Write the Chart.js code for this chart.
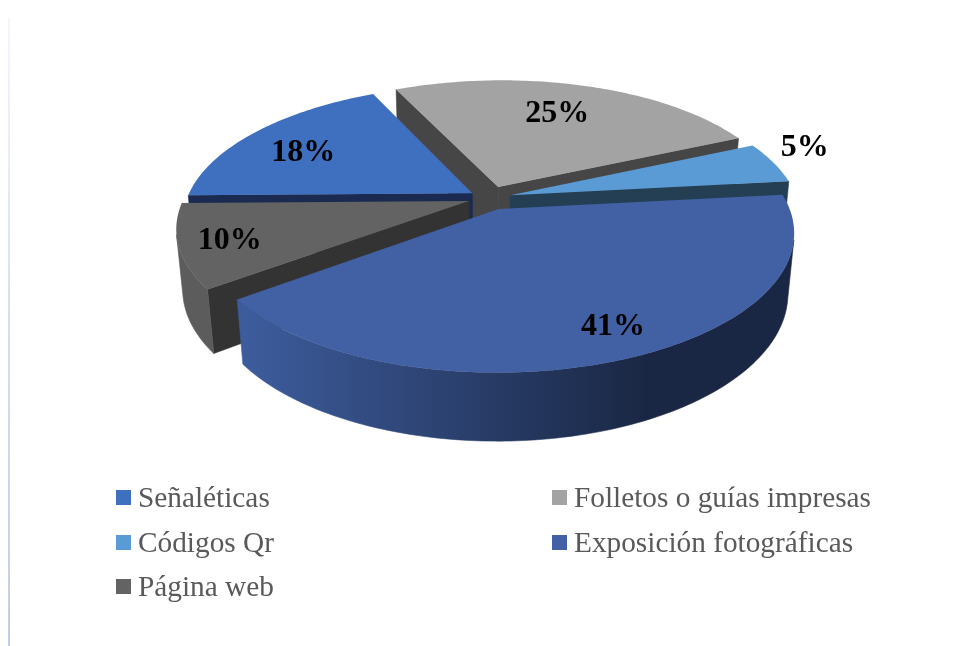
<!DOCTYPE html>
<html lang="es">
<head>
<meta charset="utf-8">
<title>Pie 3D</title>
<script src="https://cdn.jsdelivr.net/npm/chart.js@4/dist/chart.umd.min.js"></script>
<style>
html,body{margin:0;padding:0;background:#fff}
canvas{display:block}
</style>
</head>
<body>
<canvas id="c" width="958" height="646"></canvas>
<script>
const categories = ['Señaléticas','Folletos o guías impresas','Códigos Qr','Exposición fotográficas','Página web'];
const values = [18,25,5,41,10];
const topColors = ['#3F6FBF','#A3A3A3','#5B9BD5','#4260A4','#636363'];
const wallColors = ['#1A2A50','#464646','#243F54','#1F3060','#333333'];
const rimStart = ['#1A2A50','#464646','#243F54','#3D5C9C','#5C5C5C'];
const rimEnd = ['#1A2A50','#464646','#243F54','#1A2744','#484848'];
const explode = [20,26,22,26,21];
const paintOrder = [1,0,2,4,3];
const labelRadius = [0.812,0.805,1.26,0.91,0.905];
const labelTurn = [-2,-1.2,-5,-3,0.1];
const legendOrder = [[0,0],[1,0],[0,1],[1,1],[0,2]];

const view = {radius:286, squash:0.453, persp:0.18, depth:60, depthPersp:0.02, tilt:-2};

function project(el,X,Y,z){
  const w = 1 + view.persp*Y + view.depthPersp*z;
  return {
    x: el.x + view.radius*X/w,
    y: el.y - view.radius*view.squash*Y/w + view.depth*z/w + view.tilt*X
  };
}
function visible(a,b,d){
  return (b.x-a.x)*(d.y-a.y)-(b.y-a.y)*(d.x-a.x) < 0;
}
function poly(ctx,pts,fill){
  ctx.fillStyle = fill; ctx.strokeStyle = fill; ctx.lineWidth = 0.6;
  ctx.beginPath(); pts.forEach((p,n)=> n ? ctx.lineTo(p.x,p.y) : ctx.moveTo(p.x,p.y));
  ctx.closePath(); ctx.fill(); ctx.stroke();
}

const pie3d = {
  id:'pie3d',
  beforeDraw(chart){
    const ctx = chart.ctx;
    const g = ctx.createLinearGradient(0,18,0,646);
    g.addColorStop(0,'#f4f6fc'); g.addColorStop(0.5,'#d4def3'); g.addColorStop(1,'#bfcdec');
    ctx.fillStyle = g; ctx.fillRect(8,18,2,628);
  },
  beforeDatasetDraw(chart,args){
    const ctx = chart.ctx;
    const arcs = chart.getDatasetMeta(args.index).data;
    paintOrder.forEach(i=>{
      const el = arcs[i];
      const a0 = el.startAngle, a1 = el.endAngle, mid = (a0+a1)/2;
      const off = el.options.offset/view.radius;
      const ox = Math.cos(mid)*off, oy = -Math.sin(mid)*off;
      const steps = Math.max(8,Math.round((a1-a0)*60));
      const top=[], bot=[];
      for(let s=0;s<=steps;s++){
        const a = a0+(a1-a0)*s/steps;
        const X = ox+Math.cos(a), Y = oy-Math.sin(a);
        top.push(project(el,X,Y,0)); bot.push(project(el,X,Y,1));
      }
      const apexT = project(el,ox,oy,0), apexB = project(el,ox,oy,1);
      if(visible(apexT,top[0],apexB)) poly(ctx,[apexT,top[0],bot[0],apexB],wallColors[i]);
      if(visible(top[steps],apexT,bot[steps])) poly(ctx,[top[steps],apexT,apexB,bot[steps]],wallColors[i]);
      const grad = ctx.createLinearGradient(el.x-view.radius*0.85,0,el.x+view.radius*0.55,0);
      grad.addColorStop(0,rimStart[i]); grad.addColorStop(1,rimEnd[i]);
      let first=-1,last=-1;
      for(let s=0;s<steps;s++){
        if(visible(top[s],top[s+1],bot[s])){ if(first<0) first=s; last=s+1; }
      }
      if(first>=0){
        poly(ctx,top.slice(first,last+1).concat(bot.slice(first,last+1).reverse()),grad);
      }
      ctx.fillStyle = el.options.backgroundColor;
      ctx.beginPath(); ctx.moveTo(apexT.x,apexT.y);
      top.forEach(p=>ctx.lineTo(p.x,p.y));
      ctx.closePath(); ctx.fill();
    });
    return false;
  },
  afterDatasetsDraw(chart){
    const ctx = chart.ctx;
    const arcs = chart.getDatasetMeta(0).data;
    ctx.textAlign='center'; ctx.textBaseline='middle';
    ctx.font='bold 32px "Liberation Serif"'; ctx.fillStyle='#000';
    arcs.forEach((el,i)=>{
      const mid=(el.startAngle+el.endAngle)/2+labelTurn[i]*Math.PI/180;
      const p=project(el,labelRadius[i]*Math.cos(mid),-labelRadius[i]*Math.sin(mid),0);
      ctx.fillText(values[i]+'%',p.x,p.y+3);
    });
    ctx.textAlign='left'; ctx.textBaseline='alphabetic';
    ctx.font='29.3px "Liberation Serif"';
    categories.forEach((name,i)=>{
      const [col,row]=legendOrder[i];
      const x=[116,552][col], y=[490,535,579][row];
      ctx.fillStyle=topColors[i]; ctx.fillRect(x,y,15,15);
      ctx.fillStyle='#595959'; ctx.fillText(name,x+22,y+17);
    });
  }
};

new Chart(document.getElementById('c'),{
  type:'pie',
  data:{labels:categories,datasets:[{data:values,backgroundColor:topColors,offset:explode,borderWidth:0}]},
  options:{
    responsive:false,animation:false,rotation:270,radius:view.radius,
    layout:{padding:{left:20,bottom:250}},
    plugins:{legend:{display:false},tooltip:{enabled:false}}
  },
  plugins:[pie3d]
});
</script>
</body>
</html>
